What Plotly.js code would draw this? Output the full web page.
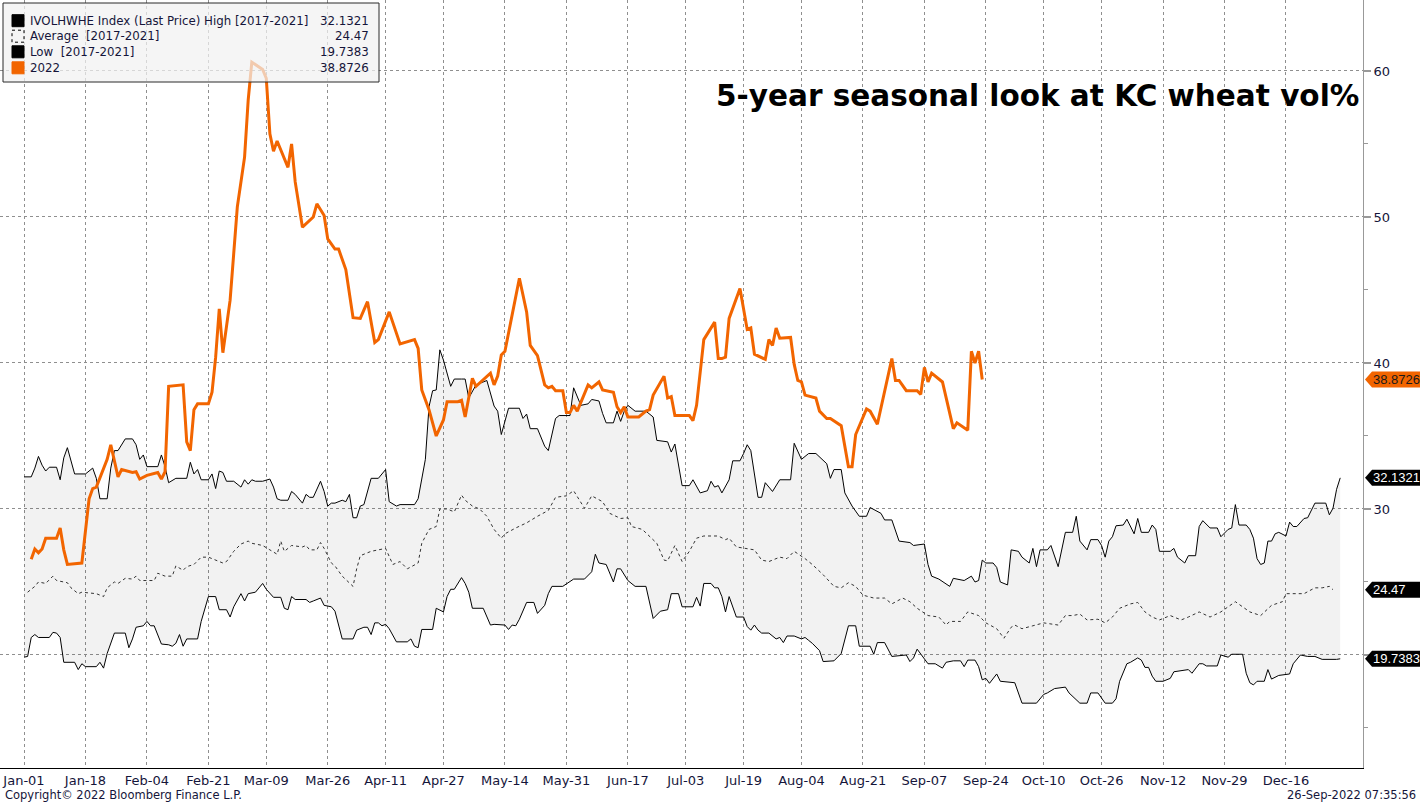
<!DOCTYPE html>
<html>
<head>
<meta charset="utf-8">
<script src="https://cdn.plot.ly/plotly-3.0.1.min.js"></script>
<style>
html,body{margin:0;padding:0;background:#fff;}
#chart{width:1420px;height:804px;}
</style>
</head>
<body>
<div id="chart"></div>
<script>
const YEAR = '2022-';

const tickDates = ['01-01','01-18','02-04','02-21','03-09','03-26','04-11','04-27','05-14','05-31','06-17','07-03','07-19','08-04','08-21','09-07','09-24','10-10','10-26','11-12','11-29','12-16'];
const tickLabels = ['Jan-01','Jan-18','Feb-04','Feb-21','Mar-09','Mar-26','Apr-11','Apr-27','May-14','May-31','Jun-17','Jul-03','Jul-19','Aug-04','Aug-21','Sep-07','Sep-24','Oct-10','Oct-26','Nov-12','Nov-29','Dec-16'];
const yTicks = [20, 30, 40, 50, 60];
const yTickLabels = ['', '30', '40', '50', '60']; // "20" is hidden behind the low-value tag in the reference

// 2022 series
const curDates = ['01-03','01-04','01-05','01-06','01-07','01-10','01-11','01-12','01-13','01-17',
'01-19','01-20','01-21','01-24','01-25','01-26','01-27','01-28','01-31','02-01',
'02-02','02-04','02-07','02-08','02-09','02-10','02-14','02-15','02-16','02-17',
'02-18','02-21','02-22','02-23','02-24','02-25','02-27','02-28','03-01','03-03',
'03-04','03-05','03-08','03-09','03-10','03-11','03-12','03-15','03-16','03-17',
'03-18','03-19','03-22','03-23','03-25','03-26','03-28','03-29','03-31','04-02',
'04-04','04-06','04-08','04-09','04-12','04-15','04-19','04-20','04-21','04-23',
'04-25','04-27','04-28','05-01','05-02','05-03','05-05','05-06','05-10','05-11',
'05-12','05-13','05-14','05-18','05-20','05-21','05-23','05-25','05-26','05-27',
'05-28','05-30','05-31','06-01','06-02','06-03','06-06','06-07','06-09','06-10',
'06-13','06-14','06-15','06-16','06-17','06-20','06-22','06-23','06-24','06-27',
'06-28','06-29','06-30','07-04','07-05','07-06','07-08','07-11','07-12','07-13',
'07-14','07-15','07-18','07-20','07-21','07-22','07-25','07-26','07-27','07-28',
'07-29','08-01','08-02','08-03','08-04','08-05','08-08','08-09','08-11','08-12',
'08-15','08-17','08-18','08-19','08-22','08-23','08-25','08-29','08-30','08-31',
'09-02','09-05','09-06','09-07','09-08','09-09','09-12','09-15','09-16','09-19',
'09-20','09-21','09-22','09-23'];
const curVals = [26.55,27.26,27.0,27.26,28.0,28.0,28.7,27.2,26.2,26.3,
30.7,31.4,31.5,33.4,34.4,33.2,32.2,32.7,32.5,32.55,
32.05,32.3,32.5,32.05,32.55,38.4,38.5,34.6,34.0,36.8,
37.2,37.2,38.0,40.4,43.7,40.7,44.3,47.5,50.7,54.1,
58.0,60.6,60.1,59.5,55.7,54.5,55.2,53.4,55.0,52.4,
50.9,49.3,50.0,50.9,50.1,48.5,47.8,47.8,46.4,43.1,
43.05,44.2,41.4,41.6,43.5,41.3,41.6,41.0,38.15,36.8,
35.0,36.1,37.35,37.35,37.45,36.3,38.95,38.4,39.3,38.5,
39.1,40.55,40.8,45.8,43.5,41.2,40.5,38.5,38.3,38.4,
38.1,38.1,36.6,36.6,37.1,36.7,38.5,38.3,38.7,38.15,
38.0,37.0,36.6,37.0,36.3,36.3,36.7,36.8,37.8,39.1,
37.6,37.7,36.4,36.4,36.05,37.1,41.6,42.8,40.3,40.3,
40.4,43.05,45.1,42.3,42.4,40.6,40.25,41.6,41.2,42.4,
41.7,41.75,39.9,38.8,38.7,37.8,37.6,36.7,36.2,36.2,
35.7,32.9,32.9,35.1,36.85,36.7,35.8,40.3,38.8,38.8,
38.1,38.1,37.85,39.7,38.7,39.3,38.7,35.5,35.9,35.4,
40.8,40.0,40.8,38.8726];

// 2017-2021 high
const highDates = ['01-01','01-03','01-04','01-05','01-06','01-07','01-08','01-10','01-11','01-12',
'01-13','01-15','01-18','01-20','01-21','01-22','01-24','01-25','01-26','01-27',
'01-29','01-31','02-01','02-02','02-03','02-04','02-07','02-08','02-09','02-10',
'02-12','02-15','02-16','02-17','02-18','02-19','02-21','02-22','02-23','02-24',
'02-25','02-26','02-28','03-02','03-03','03-04','03-05','03-06','03-08','03-10',
'03-11','03-12','03-13','03-15','03-16','03-17','03-19','03-20','03-21','03-22',
'03-24','03-25','03-26','03-27','03-28','03-30','03-31','04-01','04-02','04-03',
'04-04','04-05','04-07','04-09','04-11','04-12','04-14','04-15','04-19','04-20',
'04-22','04-23','04-24','04-25','04-26','04-27','04-29','04-30','05-02','05-03',
'05-04','05-06','05-09','05-11','05-12','05-13','05-15','05-18','05-19','05-20',
'05-21','05-23','05-25','05-26','05-28','05-29','06-01','06-02','06-04','06-06',
'06-07','06-09','06-10','06-11','06-13','06-14','06-15','06-16','06-17','06-19',
'06-22','06-23','06-24','06-25','06-28','06-29','06-30','07-02','07-04','07-05',
'07-07','07-09','07-10','07-11','07-12','07-13','07-15','07-16','07-18','07-19',
'07-20','07-21','07-23','07-24','07-25','07-27','07-29','08-01','08-02','08-04',
'08-06','08-08','08-11','08-12','08-13','08-15','08-16','08-18','08-20','08-22',
'08-23','08-26','08-27','08-29','08-31','09-03','09-04','09-07','09-08','09-09',
'09-11','09-14','09-15','09-18','09-20','09-21','09-22','09-23','09-24','09-26',
'09-27','09-28','09-30','10-01','10-03','10-04','10-06','10-07','10-08','10-09',
'10-11','10-12','10-14','10-16','10-18','10-19','10-20','10-22','10-23','10-25',
'10-26','10-27','10-28','10-29','10-30','11-01','11-02','11-04','11-05','11-06',
'11-08','11-09','11-10','11-11','11-14','11-15','11-16','11-18','11-19','11-21',
'11-22','11-23','11-24','11-25','11-27','11-28','11-30','12-01','12-02','12-03',
'12-05','12-06','12-07','12-08','12-09','12-10','12-11','12-12','12-13','12-14',
'12-16','12-17','12-18','12-19','12-21','12-22','12-24','12-27','12-28','12-29',
'12-30','12-31'];
const highVals = [32.2,32.2,32.8,33.6,33.0,32.6,32.86,32.86,32.0,33.5,
34.2,32.4,32.4,32.8,32.1,30.7,30.7,32.8,34.0,34.0,
34.8,34.8,34.4,33.4,33.7,32.9,32.9,33.7,32.9,31.8,
32.1,32.1,33.2,32.4,32.7,32.0,32.0,32.4,31.4,32.6,
32.5,31.9,31.9,31.5,32.0,31.7,32.0,31.9,31.9,32.05,
31.5,30.7,30.6,30.6,31.2,31.0,30.4,31.0,30.8,30.8,
31.9,31.2,30.2,30.4,30.4,30.6,30.5,31.0,29.4,29.4,
30.2,30.3,32.1,32.1,32.7,30.5,30.2,30.3,30.3,30.7,
33.4,37.0,38.1,38.15,40.9,40.2,38.4,38.9,38.9,38.9,
37.6,38.5,38.8,37.05,36.7,35.1,36.9,36.9,36.2,36.5,
35.5,35.5,34.3,34.0,36.2,36.4,36.4,38.3,37.1,37.2,
37.5,37.4,36.55,35.9,35.9,36.7,36.0,36.7,37.1,36.7,
36.7,36.5,36.3,34.7,34.6,33.9,34.45,31.6,31.6,32.0,
31.1,31.25,31.9,31.5,31.6,31.1,32.0,33.3,33.3,33.8,
34.4,34.0,30.8,30.8,31.8,31.2,32.0,32.0,34.5,33.4,
33.8,33.8,33.1,32.1,32.7,32.7,31.1,30.2,29.5,29.5,
30.1,29.7,29.25,29.25,27.8,27.7,27.5,27.6,26.2,25.4,
25.2,24.7,25.25,25.1,25.4,25.0,25.1,26.5,26.3,26.3,
26.0,25.0,24.8,27.2,27.1,26.7,26.3,27.3,26.05,27.2,
27.2,27.5,26.05,28.4,28.4,29.5,27.8,27.2,27.9,27.9,
27.5,26.7,27.8,28.1,28.85,28.9,29.3,28.3,29.35,28.4,
28.4,28.9,28.6,27.1,27.1,27.3,26.7,26.3,26.8,26.8,
28.8,29.2,28.95,28.7,28.7,28.1,28.6,28.7,30.3,28.9,
28.9,28.6,28.0,26.6,26.2,26.3,27.8,27.8,28.3,28.4,
28.15,29.1,28.8,28.8,29.35,29.4,30.4,30.4,29.6,30.05,
31.35,32.1321];

// 2017-2021 average
const avgDates = ['01-02','01-04','01-05','01-07','01-09','01-10','01-13','01-14','01-16','01-17',
'01-21','01-23','01-24','01-26','01-27','01-29','01-31','02-01','02-02','02-06',
'02-07','02-09','02-11','02-12','02-14','02-15','02-17','02-19','02-21','02-23',
'02-25','02-26','02-28','03-02','03-04','03-05','03-08','03-10','03-12','03-13',
'03-14','03-16','03-19','03-20','03-21','03-23','03-24','03-25','03-27','03-28',
'03-30','04-02','04-03','04-04','04-07','04-09','04-11','04-13','04-14','04-15',
'04-17','04-20','04-21','04-23','04-25','04-26','04-28','04-30','05-02','05-03',
'05-05','05-07','05-09','05-11','05-13','05-14','05-17','05-20','05-23','05-26',
'05-28','05-31','06-02','06-03','06-05','06-07','06-10','06-12','06-15','06-17',
'06-18','06-21','06-23','06-25','06-27','06-28','06-30','07-02','07-04','07-06',
'07-08','07-12','07-14','07-15','07-17','07-19','07-22','07-24','07-26','07-29',
'07-31','08-02','08-05','08-07','08-10','08-13','08-15','08-17','08-19','08-21',
'08-24','08-27','08-29','09-01','09-03','09-05','09-08','09-11','09-13','09-14',
'09-17','09-19','09-22','09-24','09-27','09-29','10-01','10-02','10-04','10-07',
'10-10','10-14','10-16','10-18','10-20','10-22','10-25','10-27','10-29','10-31',
'11-03','11-05','11-07','11-09','11-11','11-14','11-17','11-19','11-22','11-25',
'11-28','12-02','12-04','12-06','12-09','12-12','12-15','12-16','12-21','12-24',
'12-26','12-28','12-29'];
const avgVals = [24.3,24.7,25.0,24.9,25.4,25.1,24.95,24.6,24.2,24.3,
24.2,24.0,24.6,25.0,24.9,25.25,25.2,25.4,25.1,25.1,
25.6,25.4,25.4,26.1,25.8,26.05,26.2,26.7,26.7,26.5,
26.3,26.4,27.1,27.6,27.8,27.65,27.5,27.2,26.9,27.8,
27.1,27.5,27.4,27.5,27.2,27.2,27.7,27.3,26.3,26.1,
25.4,24.7,25.9,26.8,27.1,27.2,27.3,26.2,26.3,26.4,
25.9,26.3,27.65,28.6,28.8,30.0,30.0,29.8,30.95,30.6,
30.2,30.0,29.5,28.6,28.0,28.3,28.7,29.05,29.5,29.9,
30.8,30.9,31.25,30.85,30.05,30.9,30.5,29.7,29.35,29.4,
28.8,28.6,28.1,27.65,26.5,26.45,27.5,26.4,27.1,28.0,
28.15,28.15,27.9,28.0,27.4,27.3,27.2,26.5,26.4,26.7,
26.6,27.1,26.6,26.2,25.5,24.7,24.6,24.95,24.7,24.1,
23.9,23.9,23.5,23.9,23.65,23.2,22.7,22.6,22.05,22.3,
22.3,22.95,22.7,22.2,21.8,21.15,21.9,22.05,21.8,22.0,
22.2,22.05,22.7,22.7,22.8,22.4,22.45,22.2,22.6,23.2,
23.5,23.6,22.95,22.6,22.4,22.7,22.4,22.6,22.95,22.6,
22.95,23.65,23.3,22.95,22.7,23.4,23.65,24.2,24.2,24.6,
24.6,24.7,24.47];

// 2017-2021 low
const lowDates = ['01-01','01-02','01-03','01-04','01-05','01-08','01-09','01-10','01-11','01-12',
'01-15','01-16','01-17','01-18','01-21','01-22','01-23','01-24','01-26','01-29',
'01-30','01-31','02-01','02-03','02-04','02-05','02-06','02-08','02-10','02-11',
'02-12','02-13','02-14','02-15','02-18','02-19','02-21','02-23','02-24','02-26',
'02-27','02-28','03-02','03-03','03-04','03-06','03-08','03-09','03-11','03-13',
'03-14','03-15','03-16','03-17','03-20','03-21','03-22','03-24','03-25','03-27',
'03-28','03-30','04-02','04-03','04-05','04-06','04-07','04-08','04-09','04-10',
'04-11','04-12','04-14','04-17','04-18','04-19','04-20','04-21','04-24','04-25',
'04-27','04-28','04-29','04-30','05-02','05-03','05-04','05-05','05-08','05-09',
'05-10','05-11','05-14','05-15','05-16','05-17','05-18','05-20','05-22','05-23',
'05-25','05-26','05-27','05-30','06-02','06-05','06-07','06-08','06-09','06-11',
'06-13','06-14','06-15','06-17','06-19','06-22','06-23','06-24','06-26','06-28',
'06-29','07-01','07-02','07-05','07-06','07-07','07-08','07-10','07-11','07-12',
'07-13','07-14','07-15','07-17','07-19','07-20','07-21','07-22','07-23','07-24',
'07-26','07-28','07-29','07-30','07-31','08-02','08-04','08-05','08-06','08-07',
'08-09','08-10','08-13','08-15','08-17','08-19','08-20','08-23','08-24','08-25',
'08-27','08-29','09-02','09-03','09-04','09-05','09-08','09-10','09-12','09-13',
'09-15','09-17','09-18','09-19','09-21','09-22','09-23','09-24','09-25','09-27',
'09-28','10-02','10-04','10-08','10-10','10-11','10-13','10-16','10-17','10-20',
'10-22','10-23','10-25','10-27','10-29','10-30','10-31','11-02','11-03','11-05',
'11-06','11-07','11-08','11-09','11-10','11-12','11-14','11-15','11-19','11-20',
'11-22','11-23','11-24','11-27','11-28','11-30','12-01','12-04','12-05','12-06',
'12-07','12-08','12-10','12-11','12-12','12-13','12-14','12-17','12-18','12-20',
'12-22','12-24','12-26','12-30','12-31'];
const lowVals = [19.85,19.9,21.2,21.4,21.2,21.2,21.55,21.5,21.2,19.5,
19.5,19.0,19.4,19.2,19.2,19.5,19.1,20.1,21.5,21.5,
20.5,21.1,21.9,22.0,22.3,22.0,22.0,20.75,20.7,20.6,
20.8,21.4,20.6,21.1,21.1,22.3,24.0,24.0,23.1,23.1,
22.6,23.3,24.2,23.7,24.2,24.3,24.9,24.5,23.95,23.95,
23.2,23.1,24.0,23.8,23.8,23.6,23.7,23.9,23.4,23.3,
23.0,21.1,21.1,21.7,21.9,21.9,21.4,22.2,22.2,22.0,
22.1,21.8,20.9,20.9,21.1,20.6,20.5,21.75,21.75,23.2,
22.95,24.0,24.5,24.5,25.3,24.9,24.3,23.2,23.2,22.6,
22.05,22.1,22.05,21.75,22.05,22.0,22.45,23.6,23.6,22.85,
23.4,24.2,24.7,24.7,25.2,25.2,25.7,26.9,26.3,26.2,
25.0,25.9,25.9,25.1,24.7,24.7,23.65,22.5,23.0,23.1,
24.2,24.2,23.3,23.3,23.95,23.35,24.9,24.9,24.6,24.6,
24.0,22.95,24.0,22.6,22.6,21.95,21.7,22.05,21.7,21.5,
21.5,21.1,21.2,20.85,21.3,21.3,21.1,21.2,21.0,20.8,
20.3,19.55,19.6,20.1,22.0,22.0,20.6,20.6,20.05,20.85,
20.85,19.9,20.0,19.55,19.8,20.4,19.4,19.4,19.1,19.5,
19.6,19.6,19.2,19.65,19.65,19.2,18.3,18.4,18.06,18.7,
18.2,18.1,16.7,16.7,17.3,17.4,17.7,17.8,17.4,16.7,
16.7,17.4,17.4,16.7,16.7,17.0,18.2,19.4,19.5,19.8,
19.65,19.15,19.15,18.55,18.2,18.2,18.4,18.85,19.0,18.75,
19.4,19.4,19.25,19.25,20.0,19.85,20.05,20.05,18.75,18.1,
17.95,18.2,18.2,19.0,18.35,18.5,18.6,18.7,19.4,20.0,
19.9,19.9,19.7,19.7,19.7383];

const legendLabels = ['IVOLHWHE Index (Last Price) High [2017-2021]', 'Average \u00a0[2017-2021]', 'Low \u00a0[2017-2021]', '2022'];
const legendValues = ['32.1321', '24.47', '19.7383', '38.8726'];
const titleText = '5-year seasonal look at KC wheat vol%';

// ---------- styling / layout ----------
const W = 1420, H = 804;
const M = {l: 0, r: 57, t: 0, b: 36};
const PW = W - M.l - M.r, PH = H - M.t - M.b;
const Y0 = 12.26, Y1 = 64.86;
const ORANGE = '#f26500';
const TXT = '#15153a';
const px = x => x / PW;
const py = y => 1 - y / PH;
const vToPaper = v => (v - Y0) / (Y1 - Y0);
const toDate = d => YEAR + d;

const traces = [
  {x: lowDates.map(toDate), y: lowVals, type: 'scatter', mode: 'lines',
   line: {color: '#000', width: 1}, hoverinfo: 'skip'},
  {x: highDates.map(toDate), y: highVals, type: 'scatter', mode: 'lines',
   line: {color: '#000', width: 1}, fill: 'tonexty', fillcolor: 'rgba(0,0,0,0.05)', hoverinfo: 'skip'},
  {x: avgDates.map(toDate), y: avgVals, type: 'scatter', mode: 'lines',
   line: {color: '#333', width: 1, dash: 'dot'}, hoverinfo: 'skip'},
  {x: curDates.map(toDate), y: curVals, type: 'scatter', mode: 'lines',
   line: {color: ORANGE, width: 3}, hoverinfo: 'skip'}
];

const shapes = [];
const annotations = [];

// legend box
shapes.push({type: 'rect', xref: 'paper', yref: 'paper', x0: px(3), x1: px(379), y0: py(3), y1: py(82),
  fillcolor: 'rgba(241,241,241,0.72)', line: {color: '#2a2a2a', width: 1}, layer: 'above'});
const rowY = [20.7, 36.2, 51.8, 67.8];
const swatch = [
  {fill: '#000', line: {color: '#000', width: 1}},
  {fill: 'rgba(0,0,0,0)', line: {color: '#000', width: 1, dash: 'dot'}},
  {fill: '#000', line: {color: '#000', width: 1}},
  {fill: ORANGE, line: {color: ORANGE, width: 1}}
];
rowY.forEach((c, i) => {
  shapes.push({type: 'rect', xref: 'paper', yref: 'paper', x0: px(12), x1: px(24), y0: py(c - 6), y1: py(c + 6),
    fillcolor: swatch[i].fill, line: swatch[i].line, layer: 'above'});
  annotations.push({xref: 'paper', yref: 'paper', x: px(28), y: py(c), xanchor: 'left', yanchor: 'middle',
    text: legendLabels[i], showarrow: false, font: {family: 'DejaVu Sans', size: 11.8, color: TXT}});
  annotations.push({xref: 'paper', yref: 'paper', x: px(371), y: py(c), xanchor: 'right', yanchor: 'middle',
    text: legendValues[i], showarrow: false, font: {family: 'DejaVu Sans', size: 11.8, color: TXT}});
});

// last-value tags on the right axis
const tags = [
  {v: curVals[curVals.length - 1], bg: ORANGE, fg: '#1a1a1a', d: 4},
  {v: highVals[highVals.length - 1], bg: '#000', fg: '#fff', d: 4},
  {v: avgVals[avgVals.length - 1], bg: '#000', fg: '#fff', d: 2},
  {v: lowVals[lowVals.length - 1], bg: '#000', fg: '#fff', d: 4}
];
tags.forEach(t => {
  const yc = vToPaper(t.v), hh = 8 / PH;
  const xa = px(PW + 2), xb = px(PW + 9), xe = px(PW + 57);
  shapes.push({type: 'path', xref: 'paper', yref: 'paper',
    path: `M ${xa} ${yc} L ${xb} ${yc + hh} L ${xe} ${yc + hh} L ${xe} ${yc - hh} L ${xb} ${yc - hh} Z`,
    fillcolor: t.bg, line: {width: 0}, layer: 'above'});
  annotations.push({xref: 'paper', yref: 'y', x: px(PW + 8), y: t.v, xanchor: 'left', yanchor: 'middle',
    text: t.v.toFixed(t.d), showarrow: false,
    font: {family: 'Liberation Sans', size: 13, color: t.fg}});
});

// title
annotations.push({xref: 'paper', yref: 'paper', x: px(1361), y: py(96), xanchor: 'right', yanchor: 'middle',
  text: titleText, showarrow: false, font: {family: 'DejaVu Sans', size: 29.5, color: '#000', weight: 700}});

// footer
annotations.push({xref: 'paper', yref: 'paper', x: px(3), y: py(795), xanchor: 'left', yanchor: 'middle',
  text: 'Copyright\u00a9 2022 Bloomberg Finance L.P.', showarrow: false,
  font: {family: 'DejaVu Sans', size: 11.5, color: TXT}});
annotations.push({xref: 'paper', yref: 'paper', x: px(1418), y: py(795), xanchor: 'right', yanchor: 'middle',
  text: '26-Sep-2022 07:35:56', showarrow: false,
  font: {family: 'DejaVu Sans', size: 11.5, color: TXT}});

const layout = {
  width: W, height: H,
  margin: {l: M.l, r: M.r, t: M.t, b: M.b, pad: 0},
  paper_bgcolor: '#fff', plot_bgcolor: '#fff',
  showlegend: false,
  font: {family: 'DejaVu Sans', size: 13, color: TXT},
  xaxis: {
    type: 'date',
    range: ['2021-12-25 08:43', '2023-01-06 07:12'],
    tickvals: tickDates.map(toDate), ticktext: tickLabels,
    showgrid: true, gridcolor: '#8f8f8f', griddash: 'dot', gridwidth: 1,
    showline: true, linecolor: '#000', linewidth: 1,
    ticks: '', zeroline: false,
    tickfont: {family: 'DejaVu Sans', size: 13, color: TXT}
  },
  yaxis: {
    side: 'right',
    range: [Y0, Y1],
    tickvals: yTicks, ticktext: yTickLabels,
    showgrid: true, gridcolor: '#8f8f8f', griddash: 'dot', gridwidth: 1,
    showline: true, linecolor: '#999', linewidth: 1,
    ticks: 'outside', ticklen: 7, tickwidth: 2, tickcolor: '#999',
    minor: {dtick: 5, tick0: 0, ticks: 'outside', ticklen: 4, tickwidth: 1, tickcolor: '#999', showgrid: false},
    zeroline: false,
    tickfont: {family: 'DejaVu Sans', size: 13, color: TXT}
  },
  shapes: shapes,
  annotations: annotations
};

Plotly.newPlot('chart', traces, layout, {staticPlot: true, displayModeBar: false});
</script>
</body>
</html>
